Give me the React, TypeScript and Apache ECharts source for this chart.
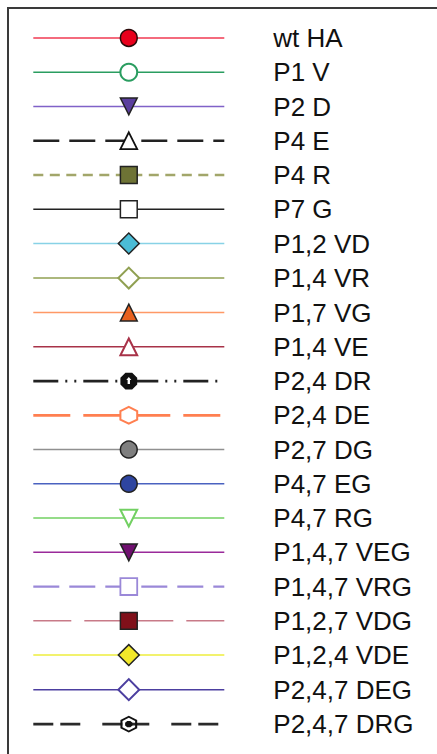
import React, { useEffect, useRef } from "react";
import * as echarts from "echarts";

// ---- legend entries ----
const names = [
  "wt HA", "P1 V", "P2 D", "P4 E", "P4 R", "P7 G", "P1,2 VD", "P1,4 VR", "P1,7 VG", "P1,4 VE",
  "P2,4 DR", "P2,4 DE", "P2,7 DG", "P4,7 EG", "P4,7 RG", "P1,4,7 VEG", "P1,4,7 VRG", "P1,2,7 VDG",
  "P1,2,4 VDE", "P2,4,7 DEG", "P2,4,7 DRG",
];

const DOWN = "path://M0,0L10,0L5,10Z";
const HEX = "path://M5,0L9.33,2.5L9.33,7.5L5,10L0.67,7.5L0.67,2.5Z";
// square drawn inside a slightly larger box, shown rotated by 45 degrees as a diamond
const DIAM = "path://M0,0M10,10M0.6,0.6L9.4,0.6L9.4,9.4L0.6,9.4Z";
const OCT_HOLE =
  "path://M3,0L7,0L10,3L10,7L7,10L3,10L0,7L0,3ZM5,2.6L3.5,4.3L4.3,4.3L4.3,6.7L5.7,6.7L5.7,4.3L6.5,4.3Z";
const HEX_DOT =
  "path://M5,0L9.33,2.5L9.33,7.5L5,10L0.67,7.5L0.67,2.5ZM5,1.25L1.75,3.125L1.75,6.875L5,8.75L8.25,6.875L8.25,3.125ZM4.2,3.1L5.8,3.1L6.9,4.2L6.9,5.8L5.8,6.9L4.2,6.9L3.1,5.8L3.1,4.2Z";

const symbols = [
  "circle", "circle", DOWN, "triangle", "rect", "rect", DIAM, DIAM, "triangle", "triangle",
  OCT_HOLE, HEX, "circle", "circle", DOWN, DOWN, "rect", "rect", DIAM, DIAM, HEX_DOT,
];

const symbolRotates = [
  0, 0, 0, 0, 0, 0, 45, 45, 0, 0,
  0, 0, 0, 0, 0, 0, 0, 0, 45, 45, 0,
];

const lineColors = [
  "#f03a52", "#2a9d60", "#8062c8", "#222222", "#a2a66a", "#222222", "#88d2e6", "#90a052", "#ff9966", "#a83248",
  "#222222", "#ff7f50", "#909090", "#4a62c0", "#72d062", "#9a2a9a", "#9a88d8", "#c87a88", "#eeee3c", "#4c3fa0", "#2a2a2a",
];

const lineWidths = [
  1.5, 1.5, 1.5, 2.6, 2.6, 1.5, 1.5, 1.5, 1.5, 1.5,
  2.6, 2.6, 1.5, 1.5, 1.5, 1.5, 2.2, 1.5, 1.5, 1.5, 2.6,
];

const dashes: (string | number[])[] = [
  "solid", "solid", "solid", [26, 10], [10, 6.5], "solid", "solid", "solid", "solid", "solid",
  [25, 7, 2, 7, 2, 7], [37, 13], "solid", "solid", "solid", "solid", [26, 10], [38, 13], "solid", "solid", [20, 7, 20, 22],
];

const markerFills = [
  "#e8001c", "#ffffff", "#5b3f9e", "#ffffff", "#6e7335", "#ffffff", "#4bbcd6", "#ffffff", "#e8601e", "#ffffff",
  "#111111", "#ffffff", "#7f7f7f", "#2e45a0", "#ffffff", "#701070", "#ffffff", "#80101a", "#f2e82a", "#ffffff", "#111111",
];

const markerBorders = [
  "#2a0a0a", "#2a9d60", "#222222", "#111111", "#222222", "#222222", "#222222", "#90a052", "#222222", "#a83248",
  "#111111", "#ff7f50", "#222222", "#222222", "#72d062", "#222222", "#9a88d8", "#222222", "#222222", "#4c3fa0", "#111111",
];

const markerBorderWidths = [
  1.5, 2, 1.5, 1.8, 1.5, 1.5, 1.5, 2, 1.5, 2,
  0, 2, 1.5, 1.5, 2, 1.5, 1.8, 1.5, 1.5, 2, 0,
];

export default function App() {
  const ref = useRef<HTMLDivElement>(null);

  useEffect(() => {
    if (!ref.current) return;
    const chart = echarts.init(ref.current, undefined, { renderer: "svg" });

    const series = names.map((name, i) => ({
      type: "line",
      name,
      data: [],
      symbol: symbols[i],
      symbolRotate: symbolRotates[i],
      lineStyle: { color: lineColors[i], width: lineWidths[i], type: dashes[i] },
      itemStyle: { color: markerFills[i], borderColor: markerBorders[i], borderWidth: markerBorderWidths[i] },
    }));

    const legendData = names.map((name, i) => ({
      name,
      itemStyle: { color: markerFills[i], borderColor: markerBorders[i], borderWidth: markerBorderWidths[i], opacity: 1 },
      lineStyle: { color: lineColors[i], width: lineWidths[i], type: dashes[i], opacity: 1 },
    }));

    chart.setOption({
      animation: false,
      grid: { left: -100, top: -100, width: 10, height: 10 },
      xAxis: { type: "value", show: false },
      yAxis: { type: "value", show: false },
      graphic: [
        {
          type: "rect",
          shape: { x: 8, y: 8, width: 445, height: 770 },
          style: { fill: "none", stroke: "#3a3a3a", lineWidth: 2 },
          silent: true,
        },
      ],
      legend: {
        orient: "vertical",
        left: 32,
        top: 25,
        padding: 0,
        itemWidth: 191,
        itemHeight: 21,
        itemGap: 8.25,
        selectedMode: false,
        data: legendData,
        textStyle: {
          fontFamily: "Liberation Sans, Arial, sans-serif",
          fontSize: 26,
          color: "#111111",
          padding: [0, 0, 0, 44],
        },
      },
      series,
    });

    return () => chart.dispose();
  }, []);

  return (
    <div
      ref={ref}
      style={{ position: "fixed", left: 0, top: 0, width: 437, height: 754, background: "#ffffff" }}
    />
  );
}
